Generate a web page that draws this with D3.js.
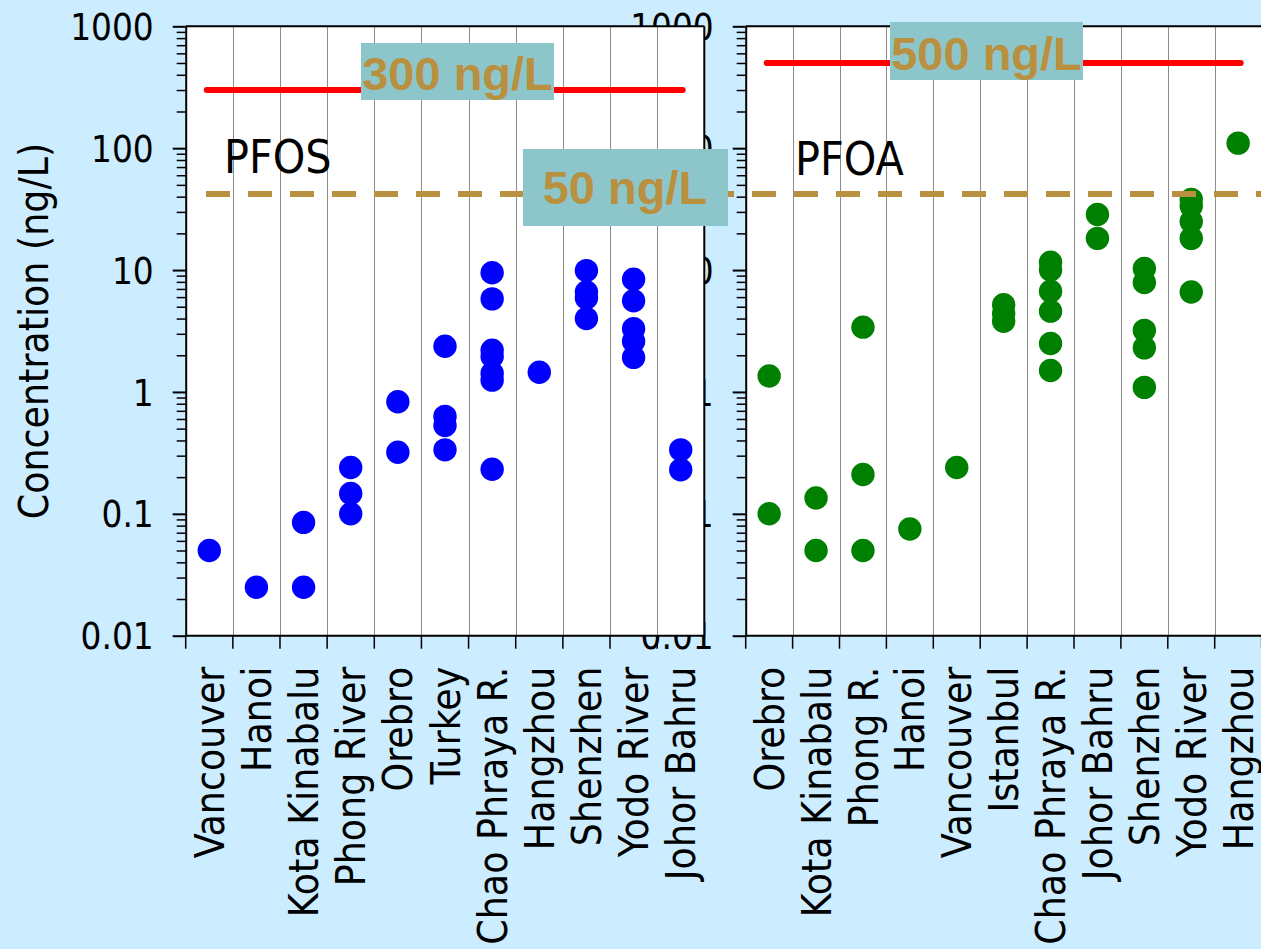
<!DOCTYPE html>
<html>
<head>
<meta charset="utf-8">
<script src="https://cdn.jsdelivr.net/npm/d3@7"></script>
<style>
  html, body { margin: 0; padding: 0; background: #ccecff; }
  svg { display: block; }
  .lbl { font-family: "DejaVu Sans Condensed", "DejaVu Sans", sans-serif; font-stretch: condensed; fill: #000; }
  .guide { font-family: "Liberation Sans", Arial, sans-serif; font-weight: bold; fill: #b8903f; }
</style>
</head>
<body>
<svg id="chart" width="1261" height="949"></svg>
<script>
// ---------------- DATA ----------------
const pfosCategories = ["Vancouver", "Hanoi", "Kota Kinabalu", "Phong River", "Orebro", "Turkey",
  "Chao Phraya R.", "Hangzhou", "Shenzhen", "Yodo River", "Johor Bahru"];
const pfosValues = [
  [0.05],
  [0.025],
  [0.085, 0.025],
  [0.24, 0.147, 0.1],
  [0.83, 0.32],
  [2.37, 0.63, 0.53, 0.335],
  [9.5, 5.8, 2.2, 1.95, 1.42, 1.25, 0.232],
  [1.45],
  [9.9, 6.6, 5.9, 4.0],
  [8.4, 5.6, 3.3, 2.6, 1.92],
  [0.335, 0.23]
];
const pfoaCategories = ["Orebro", "Kota Kinabalu", "Phong R.", "Hanoi", "Vancouver", "Istanbul",
  "Chao Phraya R.", "Johor Bahru", "Shenzhen", "Yodo River", "Hangzhou"];
const pfoaValues = [
  [1.35, 0.1],
  [0.135, 0.05],
  [3.4, 0.21, 0.05],
  [0.075],
  [0.24],
  [5.2, 4.4, 3.8],
  [11.6, 10.0, 6.7, 4.6, 2.5, 1.5],
  [28.6, 18.2],
  [10.3, 7.9, 3.2, 2.3, 1.09],
  [38, 33.5, 25, 18.2, 6.6],
  [110]
];
const yTickValues = [0.01, 0.1, 1, 10, 100, 1000];
const yTickLabels = ["0.01", "0.1", "1", "10", "100", "1000"];
const panelTitles = ["PFOS", "PFOA"];
const limitValues = [300, 500];            // red solid lines
const limitLabels = ["300 ng/L", "500 ng/L"];
const advisoryValue = 42;                  // dashed line (drawn position)
const advisoryLabel = "50 ng/L";
const yAxisTitle = "Concentration (ng/L)";

// ---------------- LAYOUT ----------------
const svg = d3.select("#chart");
const yTop = 26.3, yBottom = 635.7;
const y = d3.scaleLog().domain([0.01, 1000]).range([yBottom, yTop]);
const minorTicks = [];
for (let e = -2; e < 3; e++) for (let m = 2; m <= 9; m++) minorTicks.push(m * Math.pow(10, e));

const panels = [
  { cats: pfosCategories, vals: pfosValues, x0: 185.7, x1: 704.3, color: "#0000ff", title: panelTitles[0], tx: 224, ty: 173, frameRight: true },
  { cats: pfoaCategories, vals: pfoaValues, x0: 745.7, x1: 1261.6, color: "#008000", title: panelTitles[1], tx: 795, ty: 175, frameRight: false }
];

function yAxisLabels(g, p) {
  const ax = d3.axisLeft(y).tickValues(yTickValues)
    .tickFormat((d, i) => yTickLabels[i]).tickSize(13).tickPadding(19);
  g.attr("transform", `translate(${p.x0},0)`).call(ax);
  g.select(".domain").remove();
  g.selectAll(".tick line").remove();
  g.selectAll("text").attr("class", "lbl").style("font-size", "36.5px").attr("dy", "0.36em").attr("fill", "#000");
}

function drawPanel(p) {
  const x = d3.scaleBand().domain(p.cats).range([p.x0, p.x1]).padding(0);
  const g = svg.append("g");
  g.append("rect").attr("x", p.x0).attr("y", yTop).attr("width", p.x1 - p.x0).attr("height", yBottom - yTop).attr("fill", "#fff");
  const bounds = p.cats.map(c => x(c)).concat([p.x1]);
  g.selectAll(".grid").data(bounds.slice(1, p.cats.length)).join("line")
    .attr("x1", d => Math.round(d) + 0.5).attr("x2", d => Math.round(d) + 0.5)
    .attr("y1", yTop).attr("y2", yBottom).attr("stroke", "#8c8c8c").attr("stroke-width", 1);
  const pts = [];
  p.vals.forEach((arr, i) => arr.forEach(v => pts.push({ c: p.cats[i], v })));
  g.selectAll(".pt").data(pts).join("circle")
    .attr("cx", d => x(d.c) + x.bandwidth() / 2).attr("cy", d => y(d.v)).attr("r", 11.7)
    .attr("fill", p.color);
  g.append("line").attr("x1", p.x0).attr("x2", p.x1).attr("y1", yTop).attr("y2", yTop).attr("stroke", "#000").attr("stroke-width", 2);
  if (p.frameRight) g.append("line").attr("x1", p.x1).attr("x2", p.x1).attr("y1", yTop).attr("y2", yBottom).attr("stroke", "#000").attr("stroke-width", 2);
  const ya = g.append("g").attr("transform", `translate(${p.x0},0)`);
  ya.call(d3.axisLeft(y).tickValues(yTickValues).tickFormat("").tickSize(13).tickSizeOuter(0));
  ya.select(".domain").attr("stroke-width", 2);
  ya.selectAll(".tick line").attr("stroke-width", 2);
  const ym = g.append("g").attr("transform", `translate(${p.x0},0)`);
  ym.call(d3.axisLeft(y).tickValues(minorTicks).tickFormat("").tickSize(9).tickSizeOuter(0));
  ym.select(".domain").remove();
  ym.selectAll(".tick line").attr("stroke-width", 1.5);
  g.append("line").attr("x1", p.x0).attr("x2", p.x1).attr("y1", yBottom).attr("y2", yBottom).attr("stroke", "#000").attr("stroke-width", 2);
  g.selectAll(".xt").data(bounds).join("line")
    .attr("x1", d => d).attr("x2", d => d).attr("y1", yBottom).attr("y2", yBottom + 13)
    .attr("stroke", "#000").attr("stroke-width", 1.5);
  const xa = g.append("g").attr("transform", `translate(0,${yBottom})`);
  xa.call(d3.axisBottom(x).tickSize(0).tickPadding(0));
  xa.select(".domain").remove();
  xa.selectAll("text").attr("class", "lbl").style("font-size", "40.5px")
    .attr("transform", "translate(0,31) rotate(-90)")
    .attr("text-anchor", "end").attr("x", 0).attr("y", 0).attr("dy", "0.36em").attr("fill", "#000");
  g.append("text").attr("class", "lbl").attr("x", p.tx).attr("y", p.ty).style("font-size", "46px").text(p.title);
  return x;
}

yAxisLabels(svg.append("g"), panels[1]);
drawPanel(panels[1]);
drawPanel(panels[0]);
yAxisLabels(svg.append("g"), panels[0]);

svg.append("text").attr("class", "lbl").style("font-size", "40.5px")
  .attr("transform", `translate(48,${(yTop + yBottom) / 2}) rotate(-90)`)
  .attr("text-anchor", "middle").text(yAxisTitle);

const redSpans = [[206.7, 682.7], [766.7, 1240.7]];
limitValues.forEach((v, i) => {
  svg.append("line").attr("x1", redSpans[i][0]).attr("x2", redSpans[i][1])
    .attr("y1", y(v)).attr("y2", y(v)).attr("stroke", "#ff0000").attr("stroke-width", 6).attr("stroke-linecap", "round");
});
const boxes = [
  { x: 361, y: 43, w: 193, h: 57, tx: 457.5, ty: 89.5, text: limitLabels[0] },
  { x: 890, y: 22, w: 193, h: 58, tx: 986.5, ty: 69.5, text: limitLabels[1] }
];
function drawBox(b) {
  svg.append("rect").attr("x", b.x).attr("y", b.y).attr("width", b.w).attr("height", b.h).attr("fill", "#8dc6ca");
  svg.append("text").attr("class", "guide").attr("x", b.tx).attr("y", b.ty).attr("text-anchor", "middle")
    .style("font-size", "47px").text(b.text);
}
boxes.forEach(drawBox);

svg.append("line").attr("x1", 206).attr("x2", 1261).attr("y1", y(advisoryValue)).attr("y2", y(advisoryValue))
  .attr("stroke", "#b8903f").attr("stroke-width", 6).attr("stroke-dasharray", "24 18");
drawBox({ x: 523, y: 149, w: 205, h: 77, tx: 625, ty: 204, text: advisoryLabel });
</script>
</body>
</html>
